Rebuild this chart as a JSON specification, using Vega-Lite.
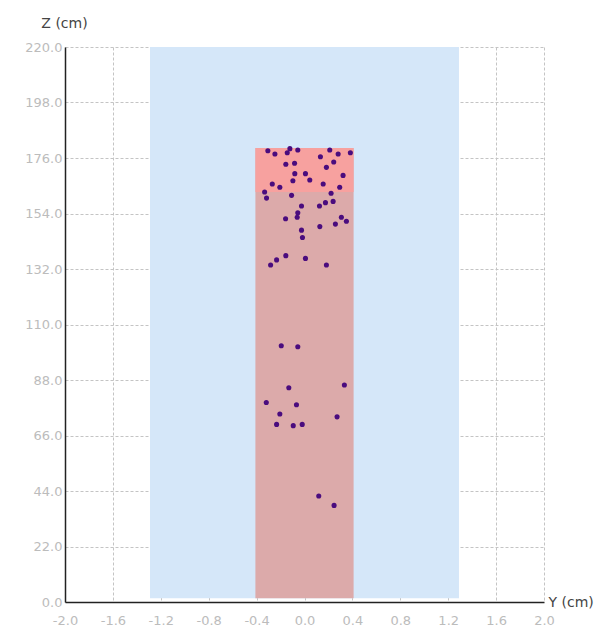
{
  "$schema": "https://vega.github.io/schema/vega-lite/v6.json",
  "autosize": "none",
  "width": 479,
  "height": 555,
  "padding": {"left": 65, "top": 47, "right": 66, "bottom": 34},
  "background": "white",
  "config": {
    "view": {"stroke": null},
    "font": "DejaVu Sans",
    "axis": {
      "labelColor": "#bcbcbc",
      "labelFontSize": 13,
      "labelFont": "DejaVu Sans",
      "ticks": false,
      "grid": true,
      "gridColor": "#c4c4c4",
      "gridDash": [3, 2],
      "gridWidth": 1,
      "domainColor": "#222222",
      "domainWidth": 1.5,
      "titleColor": "#444444",
      "titleFontSize": 14,
      "titleFontWeight": "normal",
      "titleFont": "DejaVu Sans",
      "zindex": 1
    }
  },
  "datasets": {
    "regions": [
      {"name": "zone", "y0": -1.29, "y1": 1.29, "z0": 1.5, "z1": 220, "c": "#d5e7f9"},
      {"name": "body", "y0": -0.41, "y1": 0.41, "z0": 1.5, "z1": 180, "c": "#dcaaaa"},
      {"name": "top", "y0": -0.41, "y1": 0.41, "z0": 162.5, "z1": 180, "c": "#f7a19f"}
    ],
    "points": [
      {"Y": -0.306, "Z": 178.9}, {"Y": -0.247, "Z": 177.6}, {"Y": -0.144, "Z": 178.1},
      {"Y": -0.122, "Z": 179.7}, {"Y": -0.056, "Z": 179.2}, {"Y": 0.211, "Z": 179.2},
      {"Y": 0.281, "Z": 177.6}, {"Y": 0.383, "Z": 178.1}, {"Y": -0.156, "Z": 173.5},
      {"Y": -0.083, "Z": 173.9}, {"Y": 0.133, "Z": 176.5}, {"Y": 0.244, "Z": 174.4},
      {"Y": 0.183, "Z": 172.3}, {"Y": -0.081, "Z": 169.8}, {"Y": 0.008, "Z": 169.8},
      {"Y": -0.097, "Z": 167.0}, {"Y": 0.044, "Z": 167.3}, {"Y": 0.322, "Z": 169.1},
      {"Y": -0.269, "Z": 165.7}, {"Y": -0.206, "Z": 164.4}, {"Y": 0.156, "Z": 165.7},
      {"Y": 0.294, "Z": 164.4}, {"Y": -0.333, "Z": 162.5}, {"Y": -0.317, "Z": 160.1},
      {"Y": -0.108, "Z": 161.2}, {"Y": 0.222, "Z": 162.0}, {"Y": -0.025, "Z": 157.0},
      {"Y": 0.125, "Z": 157.0}, {"Y": 0.175, "Z": 158.3}, {"Y": 0.239, "Z": 158.8},
      {"Y": -0.056, "Z": 154.3}, {"Y": -0.061, "Z": 152.5}, {"Y": -0.158, "Z": 151.9},
      {"Y": -0.025, "Z": 147.4}, {"Y": -0.017, "Z": 144.5}, {"Y": 0.128, "Z": 148.8},
      {"Y": 0.258, "Z": 149.8}, {"Y": 0.308, "Z": 152.5}, {"Y": 0.35, "Z": 150.9},
      {"Y": -0.283, "Z": 133.6}, {"Y": -0.233, "Z": 135.6}, {"Y": -0.156, "Z": 137.3},
      {"Y": 0.008, "Z": 136.2}, {"Y": 0.183, "Z": 133.6}, {"Y": -0.194, "Z": 101.6},
      {"Y": -0.056, "Z": 101.2}, {"Y": -0.131, "Z": 84.9}, {"Y": 0.333, "Z": 86.0},
      {"Y": -0.319, "Z": 79.1}, {"Y": -0.067, "Z": 78.2}, {"Y": -0.206, "Z": 74.5},
      {"Y": 0.272, "Z": 73.4}, {"Y": -0.233, "Z": 70.4}, {"Y": -0.094, "Z": 69.9},
      {"Y": -0.019, "Z": 70.4}, {"Y": 0.119, "Z": 42.0}, {"Y": 0.247, "Z": 38.3}
    ]
  },
  "layer": [
    {
      "data": {"name": "regions"},
      "mark": {"type": "rect"},
      "encoding": {
        "x": {
          "field": "y0", "type": "quantitative",
          "scale": {"domain": [-2, 2], "nice": false, "zero": false},
          "axis": {
            "title": "Y (cm)",
            "values": [-2, -1.6, -1.2, -0.8, -0.4, 0, 0.4, 0.8, 1.2, 1.6, 2],
            "labelExpr": "replace(format(datum.value, '.1f'), '\u2212', '-')",
            "labelPadding": 12,
            "titleAngle": 0,
            "titleAlign": "left",
            "titleBaseline": "middle",
            "titleX": 483,
            "titleY": 0,
            "labelFlush": false
          }
        },
        "x2": {"field": "y1"},
        "y": {
          "field": "z0", "type": "quantitative",
          "scale": {"domain": [0, 220], "nice": false},
          "axis": {
            "title": "Z (cm)",
            "values": [0, 22, 44, 66, 88, 110, 132, 154, 176, 198, 220],
            "format": ".1f",
            "labelPadding": 3,
            "titleAngle": 0,
            "titleAlign": "center",
            "titleBaseline": "middle",
            "titleX": -1,
            "titleY": -24,
            "labelFlush": false
          }
        },
        "y2": {"field": "z1"},
        "color": {"field": "c", "type": "nominal", "scale": null, "legend": null}
      }
    },
    {
      "data": {"name": "points"},
      "mark": {"type": "point", "filled": true, "size": 26, "opacity": 1, "color": "#4a0c7e"},
      "encoding": {
        "x": {"field": "Y", "type": "quantitative"},
        "y": {"field": "Z", "type": "quantitative"}
      }
    }
  ]
}
